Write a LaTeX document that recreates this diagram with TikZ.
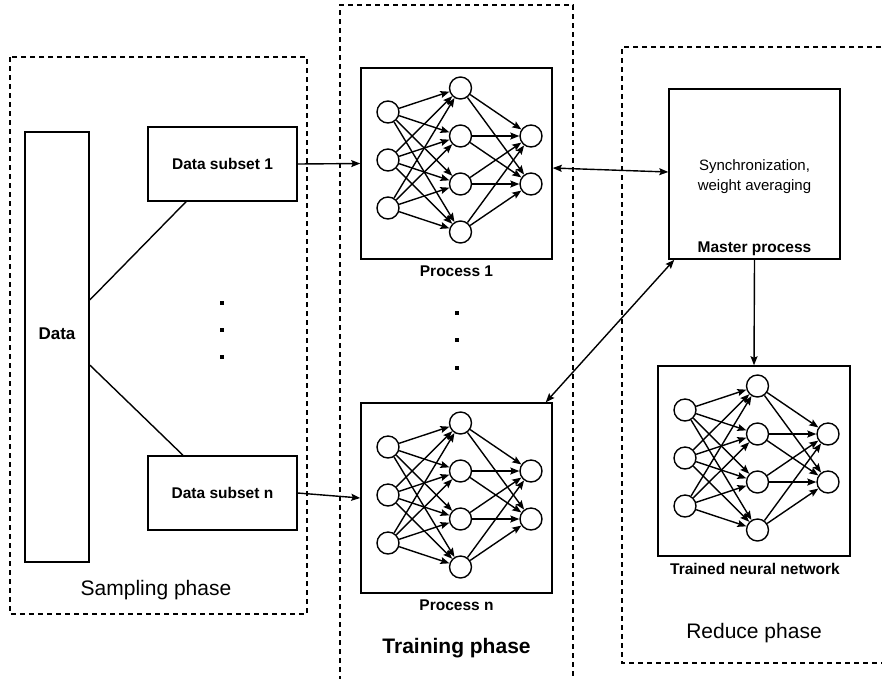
\documentclass[tikz,border=0pt]{standalone}
\usepackage{fontspec}
\setmainfont{Liberation Sans}
\usetikzlibrary{arrows.meta}
\tikzset{
  box/.style={draw, line width=1.5pt, fill=white, inner sep=0pt},
  phase/.style={draw, line width=1.4pt, dash pattern=on 5pt off 4pt},
  neuron/.style={circle, draw, line width=1.4pt, fill=white, minimum size=22pt, inner sep=0pt},
  conn/.style={line width=1.4pt, -{Stealth[length=9pt,width=7pt,inset=1.5pt]}},
  biconn/.style={line width=1.4pt, {Stealth[length=9pt,width=7pt,inset=1.5pt]}-{Stealth[length=9pt,width=7pt,inset=1.5pt]}},
  plain/.style={line width=1.4pt},
  dotsq/.style={fill, minimum size=3.2pt, inner sep=0pt},
  boldlbl/.style={font=\fontsize{15.5}{18}\selectfont\bfseries, inner sep=0pt},
  phaselbl/.style={font=\fontsize{21}{24}\selectfont, inner sep=0pt},
}
\newcommand{\drawnet}[3]{%
  \foreach \j/\yy in {1/44,2/92,3/140} \node[neuron] (#1i\j) at (#2+27,#3+\yy) {};
  \foreach \j/\yy in {1/20,2/68,3/116,4/164} \node[neuron] (#1h\j) at (#2+99.5,#3+\yy) {};
  \foreach \j/\yy in {1/68,2/116} \node[neuron] (#1o\j) at (#2+170,#3+\yy) {};
  \foreach \a in {1,2,3} \foreach \b in {1,2,3,4} \draw[conn] (#1i\a) -- (#1h\b);
  \foreach \a in {1,2,3,4} \foreach \b in {1,2} \draw[conn] (#1h\a) -- (#1o\b);
}
\begin{document}
\begin{tikzpicture}[x=1pt,y=-1pt]
\useasboundingbox (0,0) rectangle (882,678);
\fill[white] (0,0) rectangle (882,678);

% phase frames
\draw[phase] (10,57) rectangle (307,614);
\draw[phase] (340,690) -- (340,5) -- (573,5) -- (573,690);
\draw[phase] (890,47) -- (622,47) -- (622,663) -- (890,663);

% sampling phase
\node[box, minimum width=64pt, minimum height=430pt] (data) at (57,347) {};
\node[font=\fontsize{17}{20}\selectfont\bfseries, inner sep=0pt] (datalbl) at (57,334) {Data};
\node[box, minimum width=149pt, minimum height=74pt, boldlbl] (s1) at (222.5,164) {Data subset 1};
\node[box, minimum width=149pt, minimum height=74pt, boldlbl] (sn) at (222.5,493) {Data subset n};
\node[dotsq] (sd1) at (222,303) {};
\node[dotsq] (sd2) at (222,330) {};
\node[dotsq] (sd3) at (222,357) {};
\draw[plain] ([yshift=47pt]data.east) -- ([xshift=-36.5pt]s1.south);
\draw[plain] ([yshift=-18pt]data.east) -- ([xshift=-39.5pt]sn.north);
\node[phaselbl] (samplbl) at (156,590) {Sampling phase};

% training phase
\node[box, minimum width=191pt, minimum height=191pt] (p1) at (456.5,163.5) {};
\drawnet{a}{361}{68}
\node[boldlbl] (p1lbl) at (456.5,271) {Process 1};
\node[box, minimum width=191pt, minimum height=190pt] (pn) at (456.5,498) {};
\drawnet{b}{361}{403}
\node[boldlbl] (pnlbl) at (456.5,605) {Process n};
\node[dotsq] (pd1) at (457,313) {};
\node[dotsq] (pd2) at (457,340) {};
\node[dotsq] (pd3) at (457,368) {};
\node[phaselbl, font=\fontsize{21}{24}\selectfont\bfseries] (trainlbl) at (456.5,648) {Training phase};

% reduce phase
\node[box, minimum width=171pt, minimum height=170pt] (m) at (754.5,174) {};
\node[align=center, font=\fontsize{15}{20}\selectfont, inner sep=0pt] (mtxt) at (754.5,177) {Synchronization,\\weight averaging};
\node[boldlbl] (mlbl) at (754.5,249) {Master process};
\node[box, minimum width=192pt, minimum height=190pt] (t) at (754,461) {};
\drawnet{c}{658}{366}
\node[boldlbl] (tlbl) at (755,569) {Trained neural network};
\node[phaselbl] (redlbl) at (754,633) {Reduce phase};

% connectors
\draw[conn] (s1.east) -- (p1.west);
\draw[conn] (sn.east) -- (pn.west);
\draw[biconn] ([yshift=-4.5pt]p1.east) -- ([yshift=2pt]m.west);
\draw[biconn] ([xshift=-7pt]pn.north east) -- ([xshift=6pt]m.south west);
\draw[conn] (m.south) -- (t.north);
\end{tikzpicture}
\end{document}
